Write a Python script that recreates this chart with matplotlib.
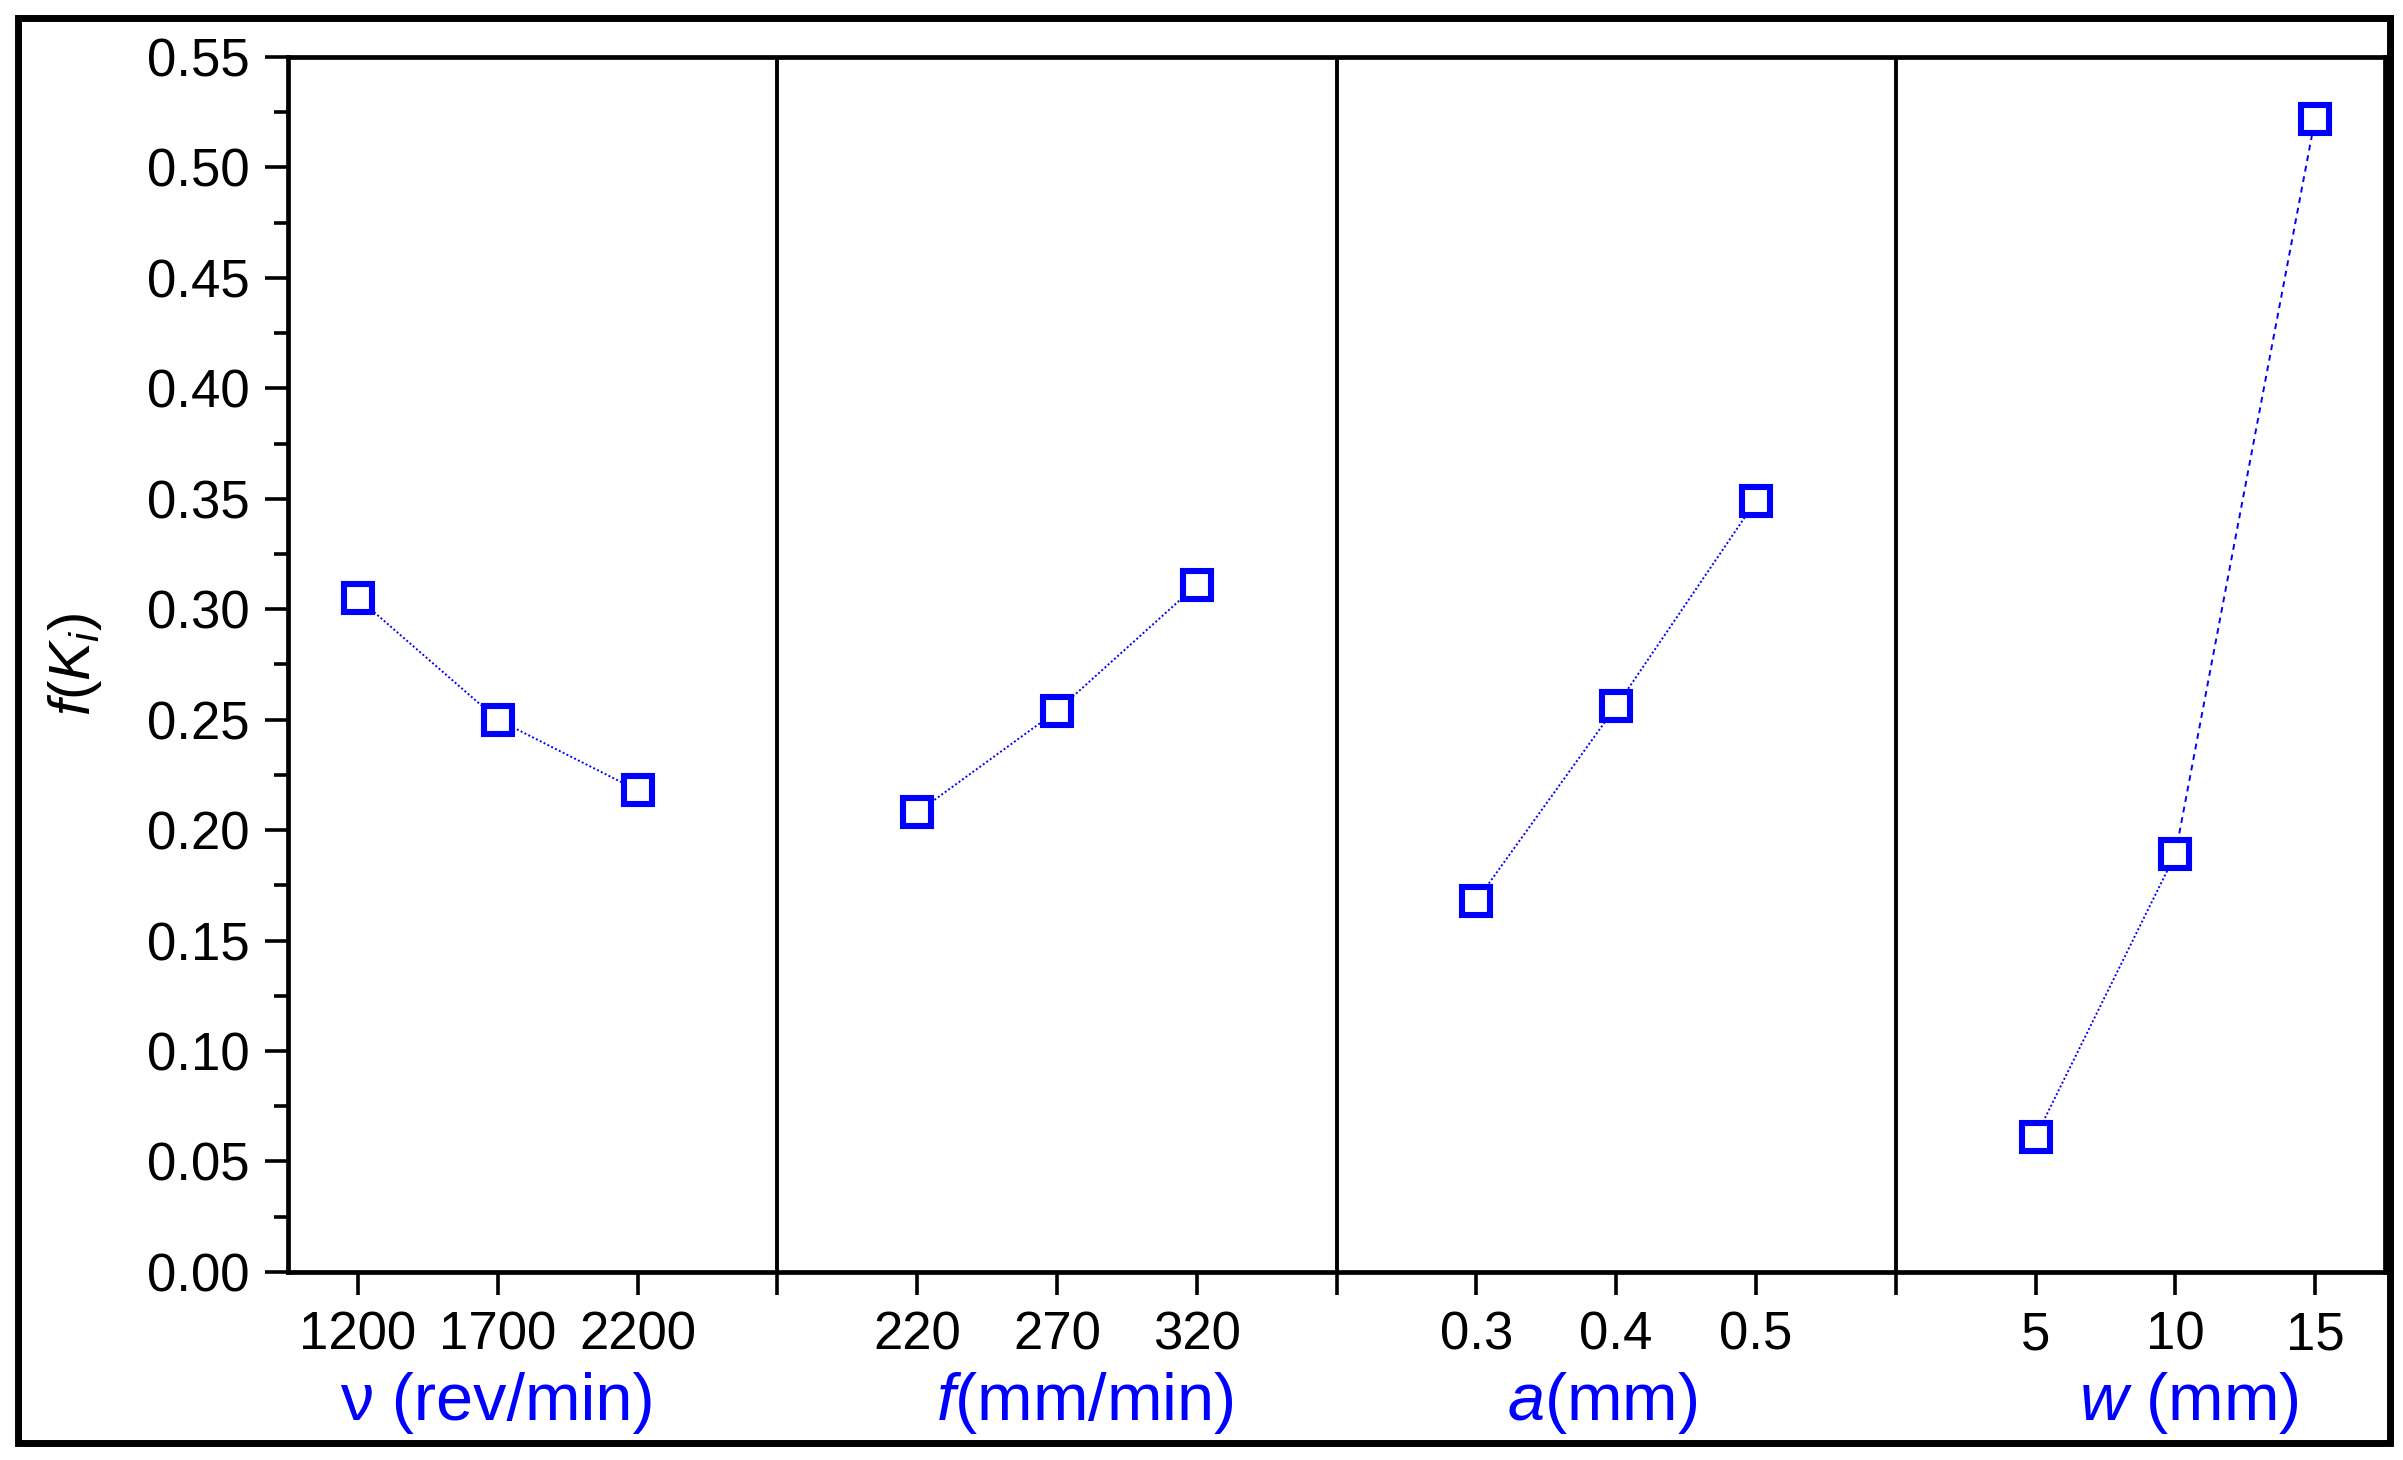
import numpy as np
import matplotlib
matplotlib.use("Agg")
import matplotlib.pyplot as plt
import matplotlib.transforms as mtransforms
from matplotlib.patches import Rectangle

plt.rcParams["font.family"] = ["Liberation Sans", "DejaVu Sans"]
plt.rcParams["mathtext.fontset"] = "custom"
plt.rcParams["mathtext.rm"] = "Liberation Sans"
plt.rcParams["mathtext.it"] = "Liberation Sans:italic"

# Data
speed_levels = ["1200", "1700", "2200"]
speed_fk = [0.305, 0.250, 0.218]

feed_levels = ["220", "270", "320"]
feed_fk = [0.208, 0.254, 0.311]

depth_levels = ["0.3", "0.4", "0.5"]
depth_fk = [0.168, 0.256, 0.349]

width_levels = ["5", "10", "15"]
width_fk = [0.061, 0.189, 0.522]

group_labels = [r"ν (rev/min)", r"$\mathit{f}$(mm/min)", r"$\mathit{a}$(mm)", r"$\mathit{w}$ (mm)"]

levels = [speed_levels, feed_levels, depth_levels, width_levels]
values = [speed_fk, feed_fk, depth_fk, width_fk]

fig = plt.figure(figsize=(24.03, 14.60), dpi=100)
ax = fig.add_axes([0.1199, 0.1288, 0.8726, 0.8322])

blue = "#0000ff"
tick_pos = []
tick_lab = []
for g, (lv, val) in enumerate(zip(levels, values)):
    x = np.arange(3) + 1 + 4 * g
    # connecting segments (last one of the w group is dashed)
    for k in range(2):
        ls = (0, (3, 2.5)) if (g == 3 and k == 1) else (0, (1, 1.2))
        ax.plot(x[k:k + 2], val[k:k + 2], color=blue, lw=1.4, ls=ls, zorder=2)
    ax.plot(x, val, ls="none", marker="s", ms=20, mew=4.4, mec=blue, mfc="white",
            zorder=3, clip_on=False)
    tick_pos += list(x)
    tick_lab += lv
    if g < 3:
        ax.axvline(4 * g + 4, color="black", lw=2.8, zorder=1)
        tick_pos.append(4 * g + 4)
        tick_lab.append("")

ax.set_xlim(0.5, 15.5)
ax.set_ylim(0, 0.55)
ax.set_xticks(tick_pos)
ax.set_xticklabels(tick_lab)
ax.set_yticks(np.arange(0, 0.551, 0.05))
ax.set_yticklabels([f"{v:.2f}" for v in np.arange(0, 0.551, 0.05)])
ax.set_yticks(np.arange(0.025, 0.55, 0.05), minor=True)

ax.tick_params(axis="both", which="major", direction="out", length=16.5, width=2.6,
               labelsize=38, color="black")
ax.tick_params(axis="x", pad=11)
ax.tick_params(axis="y", pad=11)
ax.tick_params(axis="y", which="minor", direction="out", length=10, width=2.6)
for s in ax.spines.values():
    s.set_linewidth(3.4)

trans = mtransforms.blended_transform_factory(ax.transData, ax.transAxes)
label_x = [2.0, 6.2, 9.9, 14.1]
for lx, lab in zip(label_x, group_labels):
    ax.text(lx, -0.108, lab, transform=trans, ha="center", va="center",
            color=blue, fontsize=48)

fig.text(75 / 2403, 1 - 665 / 1460, r"$f(K_i)$", rotation=90, ha="center",
         va="center", fontsize=42)

# outer frame around the whole picture
fig.patches.append(Rectangle((0.0075, 0.0116), 0.9871, 0.9761, transform=fig.transFigure,
                             fill=False, lw=5, ec="black"))

fig.savefig("out.png", dpi=100)
